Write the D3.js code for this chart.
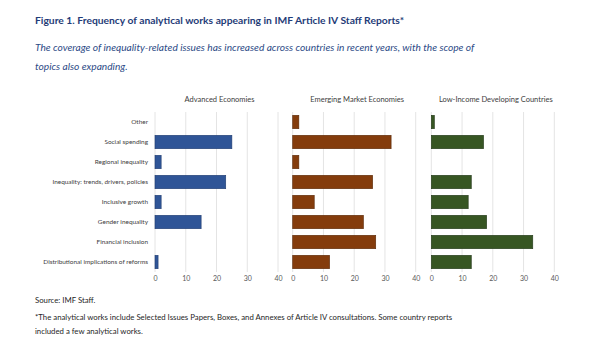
<!DOCTYPE html>
<html>
<head>
<meta charset="utf-8">
<script src="https://cdn.jsdelivr.net/npm/d3@7"></script>
<style>
  body { margin: 0; background: #fff; }
  svg { display: block; font-family: "Lato", "Open Sans", sans-serif; }
</style>
</head>
<body>
<svg id="chart" width="600" height="347"></svg>
<script>
// categories, top to bottom
var categories = ["Other", "Social spending", "Regional inequality",
  "Inequality: trends, drivers, policies", "Inclusive growth",
  "Gender inequality", "Financial inclusion", "Distributional implications of reforms"];

var panelNames = ["Advanced Economies", "Emerging Market Economies", "Low-Income Developing Countries"];

var advanced = [0, 25, 2, 23, 2, 15, 0, 1];
var emerging = [2, 32, 2, 26, 7, 23, 27, 12];
var lowIncome = [1, 17, 0, 13, 12, 18, 33, 13];

var xTicks = [0, 10, 20, 30, 40];

var svg = d3.select("#chart");

// fit a text element to a target width by shrinking/growing the font size
function fitWidth(sel, target) {
  var w = sel.node().getComputedTextLength();
  var fs = parseFloat(sel.style("font-size"));
  sel.style("font-size", (fs * target / w) + "px");
}

// title + subtitle
var title = svg.append("text")
  .attr("x", 35).attr("y", 24)
  .style("font-size", "12px")
  .style("font-weight", "bold")
  .style("fill", "#1f3c78")
  .text("Figure 1. Frequency of analytical works appearing in IMF Article IV Staff Reports*");
fitWidth(title, 370);

var sub1 = svg.append("text")
  .attr("x", 35).attr("y", 51)
  .style("font-size", "12px")
  .style("font-style", "italic")
  .style("fill", "#2c4a86")
  .text("The coverage of inequality-related issues has increased across countries in recent years, with the scope of");
fitWidth(sub1, 440);
svg.append("text")
  .attr("x", 35).attr("y", 70)
  .style("font-size", sub1.style("font-size"))
  .style("font-style", "italic")
  .style("fill", "#2c4a86")
  .text("topics also expanding.");

var colors = ["#2f5597", "#843c0c", "#375623"];
var strokes = ["#203d70", "#5a2908", "#24391a"];
var series = [advanced, emerging, lowIncome];
var panelLeft = [155, 292.7, 431.3];
var panelWidth = 123;

var y = d3.scaleBand()
  .domain(categories)
  .range([112, 272])
  .paddingInner(0.33)
  .paddingOuter(0.165);

series.forEach(function(vals, p) {
  var x = d3.scaleLinear().domain([0, 40]).range([panelLeft[p], panelLeft[p] + panelWidth]);
  var g = svg.append("g");

  // gridlines
  g.selectAll("line.grid")
    .data(xTicks)
    .enter()
    .append("line")
    .attr("x1", d => x(d)).attr("x2", d => x(d))
    .attr("y1", 112).attr("y2", 272)
    .attr("stroke", "#e4e4e4")
    .attr("stroke-width", 1);

  // tick labels
  var axis = d3.axisBottom(x).tickValues(xTicks).tickSize(0).tickPadding(4);
  var ax = g.append("g")
    .attr("transform", "translate(0,272)")
    .call(axis);
  ax.select(".domain").remove();
  ax.selectAll("text")
    .style("font-size", "7px")
    .style("fill", "#595959")
    .style("font-family", "Lato, sans-serif");

  // bars
  g.selectAll("rect")
    .data(vals)
    .enter()
    .append("rect")
    .attr("x", x(0))
    .attr("y", (d, i) => y(categories[i]))
    .attr("width", d => x(d) - x(0))
    .attr("height", y.bandwidth())
    .attr("fill", colors[p])
    .attr("stroke", d => d > 0 ? strokes[p] : "none")
    .attr("stroke-width", 0.6);

  // panel title
  var pt = g.append("text")
    .attr("x", x(20) + 3)
    .attr("y", 102)
    .attr("text-anchor", "middle")
    .style("font-size", "7.5px")
    .style("fill", "#404040")
    .text(panelNames[p]);
});

// category labels
var catLabels = svg.append("g")
  .selectAll("text")
  .data(categories)
  .enter()
  .append("text")
  .attr("x", 148)
  .attr("y", d => y(d) + y.bandwidth() / 2 + 2.4)
  .attr("text-anchor", "end")
  .style("font-size", "7px")
  .style("fill", "#404040")
  .text(d => d);
var longest = d3.select(catLabels.nodes()[7]);
fitWidth(longest, 105);
catLabels.style("font-size", longest.style("font-size"));

// source + footnote
var notes = [
  ["Source: IMF Staff.", 303],
  ["*The analytical works include Selected Issues Papers, Boxes, and Annexes of Article IV consultations. Some country reports", 320],
  ["included a few analytical works.", 334]
];
var noteSel = svg.append("g")
  .selectAll("text")
  .data(notes)
  .enter()
  .append("text")
  .attr("x", 35)
  .attr("y", d => d[1])
  .style("font-size", "9px")
  .style("fill", "#262626")
  .text(d => d[0]);
fitWidth(d3.select(noteSel.nodes()[1]), 418);
var nfs = d3.select(noteSel.nodes()[1]).style("font-size");
noteSel.style("font-size", nfs);
</script>
</body>
</html>
